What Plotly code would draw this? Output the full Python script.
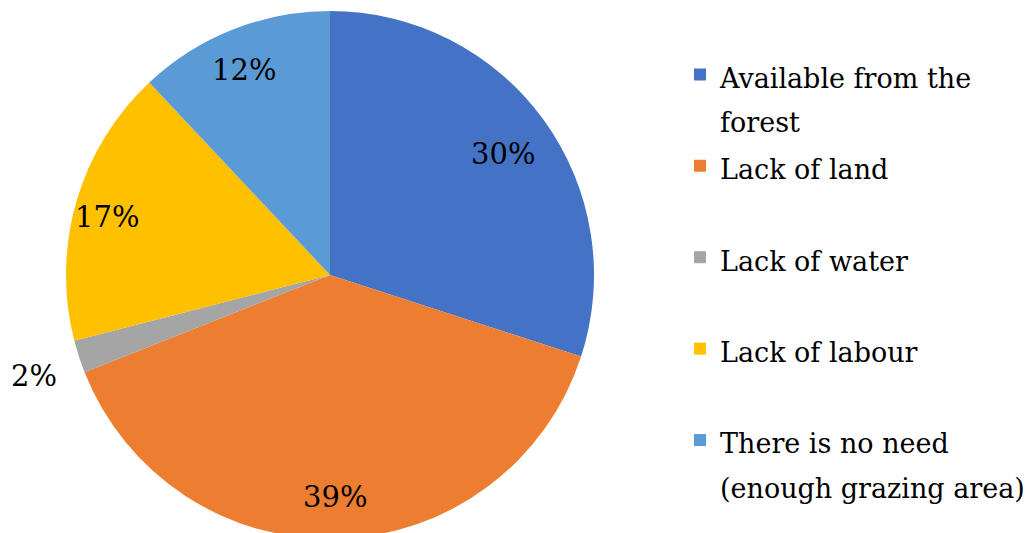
import math
import plotly.graph_objects as go

# reasons for not growing fodder (share of respondents)
reasons = [
    'Available from the<br>forest',
    'Lack of land',
    'Lack of water',
    'Lack of labour',
    'There is no need<br>(enough grazing area)',
]
shares = [30, 39, 2, 17, 12]
colors = ['#4472C4', '#ED7D31', '#A5A5A5', '#FFC000', '#5B9BD5']
label_dist = [0.82, 0.82, 1.17, 0.87, 0.86]  # label distance from centre, in radii

serif = "DejaVu Serif"
W, H = 1032, 533
top, bottom = 3, 2
cx = 322
r = (H - top - bottom) / 2  # pie radius (px)


def legend_name(s):
    # smaller text, but keep the roomy line pitch of the legend font
    lines = s.split('<br>')
    if len(lines) == 1:
        lines.append(' ')
    return '<br>'.join(f'<span style="font-size:27px">{ln}</span>' for ln in lines)


fig = go.Figure()
fig.add_trace(go.Pie(
    labels=[legend_name(s) for s in reasons],
    values=shares,
    sort=False,
    direction='clockwise',
    rotation=0,
    marker=dict(colors=colors, line=dict(width=0)),
    textinfo='none',
    domain=dict(x=[(cx - r) / W, (cx + r) / W], y=[0, 1]),
    hoverinfo='percent',
))

# percentage labels placed like Excel's "best fit"
total = sum(shares)
cum = 0
for v, f in zip(shares, label_dist):
    theta = 2 * math.pi * (cum + v / 2) / total
    cum += v
    fig.add_annotation(
        x=(cx + f * r * math.sin(theta)) / W,
        y=0.5 + f * r * math.cos(theta) / (2 * r),
        xref='paper', yref='paper',
        xanchor='center', yanchor='middle',
        xshift=-2, yshift=-6,
        text=f'{v}%', showarrow=False,
        font=dict(family=serif, size=29, color='black'),
    )

fig.update_layout(
    width=W,
    height=H,
    paper_bgcolor='white',
    plot_bgcolor='white',
    margin=dict(l=0, r=0, t=top, b=bottom),
    showlegend=True,
    legend=dict(
        x=672 / W, xanchor='left',
        y=0.934, yanchor='top',
        valign='top',
        font=dict(family=serif, size=34, color='black'),
        bgcolor='rgba(0,0,0,0)',
    ),
)

fig.write_html("out.html")
